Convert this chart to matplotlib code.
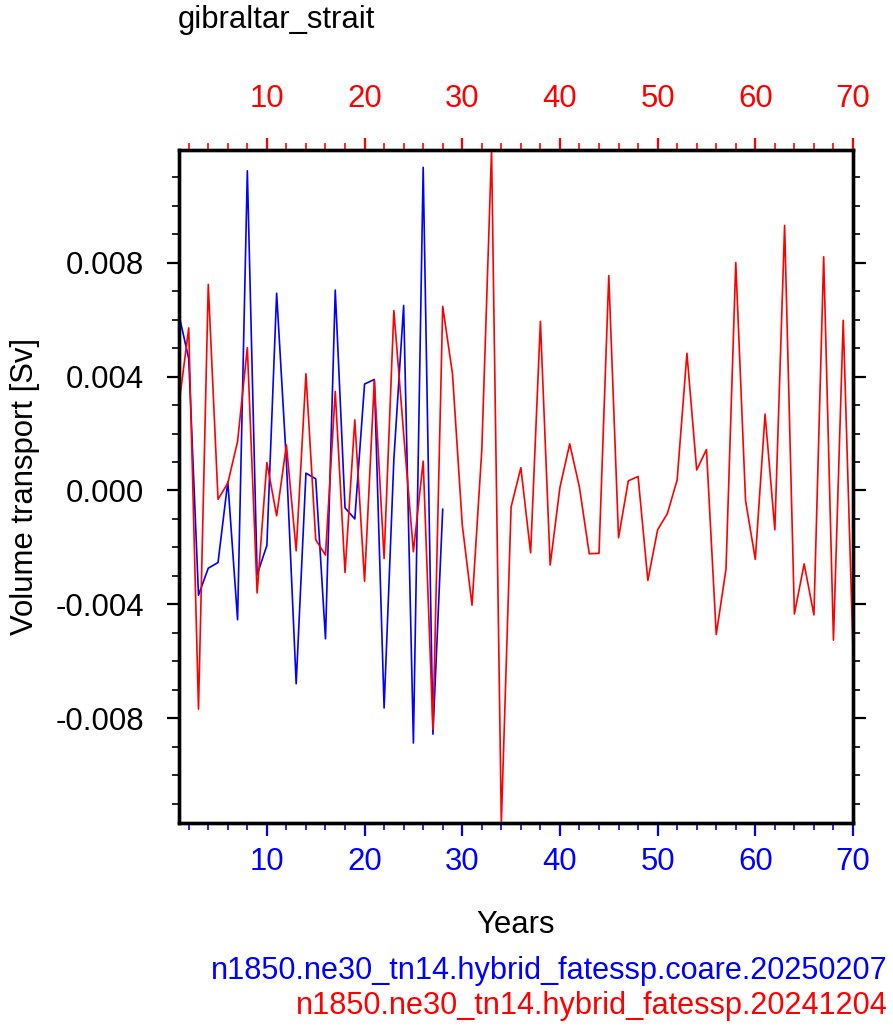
#!/usr/bin/env python3
"""Gibraltar strait volume transport, two runs (NCL-style x2 plot)."""

import matplotlib
matplotlib.use("Agg")
import matplotlib.pyplot as plt
import numpy as np
from matplotlib.ticker import MultipleLocator, FixedLocator

plt.rcParams["font.family"] = ["Liberation Sans", "DejaVu Sans"]

TITLE = "gibraltar_strait"
YLABEL = "Volume transport [Sv]"
XLABEL = "Years"
CASE_BLUE = "n1850.ne30_tn14.hybrid_fatessp.coare.20250207"
CASE_RED = "n1850.ne30_tn14.hybrid_fatessp.20241204"

# transport values in mSv (x 1e-3 Sv)
blue_vals = [6.17, 4.63, -3.68, -2.73, -2.53, 0.31, -4.54, 11.23, -2.96, -1.93,
             6.93, 1.0, -6.79, 0.61, 0.41, -5.21, 7.04, -0.61, -1.0, 3.74,
             3.90, -7.64, 1.1, 6.50, -8.87, 11.35, -8.56, -0.66]
red_vals = [3.02, 5.71, -7.68, 7.24, -0.31, 0.26, 1.72, 5.02, -3.60, 0.98,
            -0.89, 1.60, -2.12, 4.10, -1.73, -2.27, 3.48, -2.88, 2.48, -3.19,
            3.87, -2.39, 6.32, 2.0, -2.15, 1.03, -8.40, 6.47, 4.10, -1.20,
            -4.03, 1.41, 11.96, -11.68, -0.58, 0.80, -2.19, 5.94, -2.62, 0.11,
            1.64, 0.11, -2.22, -2.21, 7.55, -1.66, 0.34, 0.49, -3.16, -1.38,
            -0.81, 0.37, 4.82, 0.72, 1.44, -5.06, -2.76, 8.01, -0.35, -2.42,
            2.68, -1.38, 9.31, -4.34, -2.58, -4.37, 8.21, -5.26, 5.98, -5.6]

ytick_vals = [-0.008, -0.004, 0.0, 0.004, 0.008]
ytick_labels = ["-0.008", "-0.004", "0.000", "0.004", "0.008"]
xtick_vals = [10, 20, 30, 40, 50, 60, 70]

BLUE = "#0000ff"
RED = "#ff0000"
FS = 22.4


def main():
    blue = np.array(blue_vals) * 1e-3
    red = np.array(red_vals) * 1e-3
    yb = np.arange(1, len(blue) + 1)
    yr = np.arange(1, len(red) + 1)

    fig = plt.figure(figsize=(8.93, 10.36), dpi=100)
    ax = fig.add_axes([0.2004, 0.2056, 0.7548, 0.6496])
    ax2 = ax.twiny()

    ax2.plot(yr, red, color=RED, lw=1.2)
    ax.plot(yb, blue, color=BLUE, lw=1.2, zorder=3)

    ymin = min(red.min(), blue.min())
    ymax = max(red.max(), blue.max())
    for a in (ax, ax2):
        a.set_xlim(1, 70)
        a.set_ylim(ymin, ymax)
        for s in a.spines.values():
            s.set_linewidth(2.4)

    # bottom axis (blue run)
    ax.xaxis.set_major_locator(FixedLocator(xtick_vals))
    ax.xaxis.set_minor_locator(MultipleLocator(2))
    ax.tick_params(axis="x", which="both", direction="out", colors=BLUE,
                   labelsize=FS, pad=8)
    ax.tick_params(axis="x", which="major", length=9, width=1.6)
    ax.tick_params(axis="x", which="minor", length=5, width=1.2)

    # top axis (red run)
    ax2.xaxis.set_major_locator(FixedLocator(xtick_vals))
    ax2.xaxis.set_minor_locator(MultipleLocator(2))
    ax2.tick_params(axis="x", which="both", direction="out", colors=RED,
                    labelsize=FS, pad=17)
    ax2.tick_params(axis="x", which="major", length=9, width=1.6)
    ax2.tick_params(axis="x", which="minor", length=5, width=1.2)

    # y axis, both sides
    ax.set_yticks(ytick_vals)
    ax.set_yticklabels(ytick_labels)
    ax.yaxis.set_minor_locator(MultipleLocator(0.001))
    ax.tick_params(axis="y", which="both", direction="out", left=True,
                   right=True, labelsize=FS, pad=16, color="black")
    ax.tick_params(axis="y", which="major", length=9, width=1.6)
    ax.tick_params(axis="y", which="minor", length=5, width=1.2)
    ax.set_ylabel(YLABEL, fontsize=FS, labelpad=11)

    ax.set_xlabel(XLABEL, fontsize=FS, labelpad=24)

    fig.text(178 / 893, 1 - 20 / 1036, TITLE, fontsize=FS, ha="left", va="center")
    fig.text(888 / 893, 1 - 971 / 1036, CASE_BLUE, fontsize=22.1, color=BLUE,
             ha="right", va="center")
    fig.text(888 / 893, 1 - 1006 / 1036, CASE_RED, fontsize=22.1, color=RED,
             ha="right", va="center")

    fig.savefig("out.png", dpi=100)


if __name__ == "__main__":
    main()
